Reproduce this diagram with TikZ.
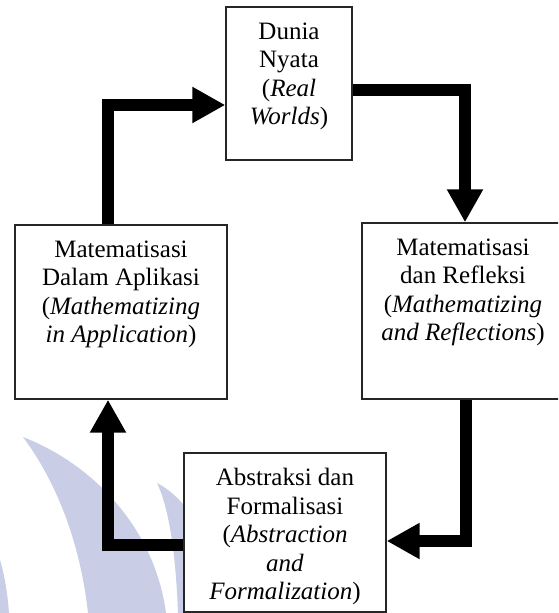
\documentclass[tikz,border=0pt]{standalone}
\usepackage{fontspec}
\setmainfont{Liberation Serif}
\usepackage{tikz}
\usetikzlibrary{arrows.meta,positioning,calc}
\definecolor{wmark}{RGB}{201,205,230}
\tikzstyle{stage}=[draw=black!85,line width=1.4pt,fill=white,inner sep=0pt]
\tikzstyle{boxtext}=[align=center,inner sep=0pt,anchor=north,font=\fontsize{25}{28.5}\selectfont]
\tikzstyle{flow}=[line width=12pt,line join=miter,-{Triangle[length=33pt,width=34pt]}]

\begin{document}
\begin{tikzpicture}[x=1pt,y=-1pt]
  \useasboundingbox (0,0) rectangle (558,613);
  \clip (0,0) rectangle (558,613);
  % watermark
  \fill[wmark] (23,437) .. controls (95,465) and (155,530) .. (166,613) -- (88,613)
    .. controls (80,540) and (55,480) .. (23,437) -- cycle;
  \fill[wmark] (157,483) .. controls (180,495) and (200,520) .. (210,560) -- (210,613) -- (178,613)
    .. controls (176,560) and (170,510) .. (157,483) -- cycle;
  \fill[wmark] (0,560) .. controls (6,580) and (8,600) .. (9,613) -- (0,613) -- cycle;
  % stages
  \node[stage,minimum width=126pt,minimum height=153pt] (nyata) at (289,83.5) {};
  \node[stage,minimum width=212pt,minimum height=174pt] (aplikasi) at (121,312) {};
  \node[stage,minimum width=202pt,minimum height=176pt] (refleksi) at (463,311) {};
  \node[stage,minimum width=202pt,minimum height=159pt] (formal) at (285,532.5) {};
  \node[boxtext] (nyatatext) at ([yshift=-16pt]nyata.north)
    {Dunia\\Nyata\\(\textit{Real}\\\textit{Worlds})};
  \node[boxtext] (aplikasitext) at ([yshift=-16pt]aplikasi.north)
    {Matematisasi\\Dalam Aplikasi\\(\textit{Mathematizing}\\\textit{in Application})};
  \node[boxtext] (refleksitext) at ([yshift=-16pt]refleksi.north)
    {Matematisasi\\dan Refleksi\\(\textit{Mathematizing}\\\textit{and Reflections})};
  \node[boxtext] (formaltext) at ([yshift=-16pt]formal.north)
    {Abstraksi dan\\Formalisasi\\(\textit{Abstraction}\\\textit{and}\\\textit{Formalization})};
  % cycle
  \draw[flow] ([xshift=-13pt]aplikasi.north) |- ([yshift=-21.5pt]nyata.west);
  \draw[flow] ([yshift=-6.5pt]nyata.east) -| ([xshift=2pt]refleksi.north);
  \draw[flow] ([xshift=3pt]refleksi.south) |- ([yshift=-8.5pt]formal.east);
  \draw[flow] ([yshift=-12.5pt]formal.west) -| ([xshift=-13pt]aplikasi.south);
\end{tikzpicture}
\end{document}
